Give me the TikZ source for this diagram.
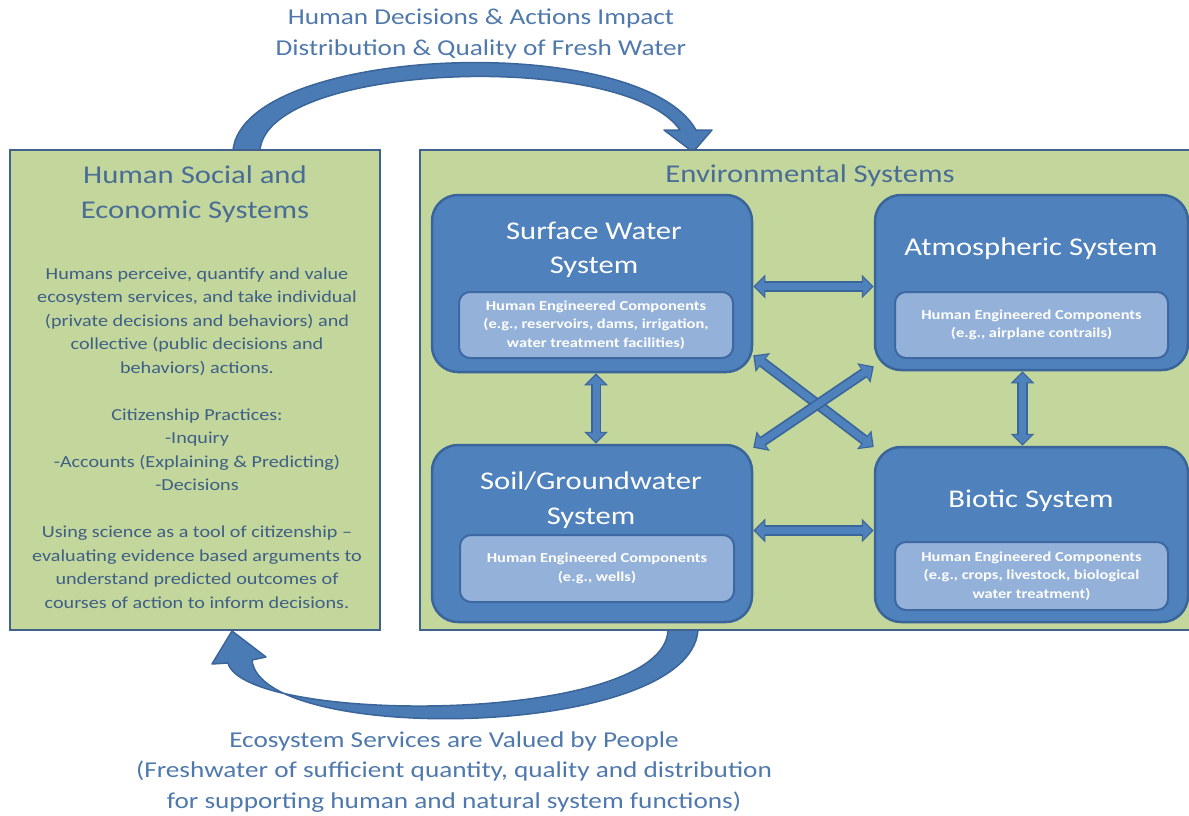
\documentclass[tikz,border=0pt]{standalone}
\usepackage{fontspec}
\setmainfont{Carlito}[FakeStretch=1.2]
\usetikzlibrary{arrows.meta,positioning}

\definecolor{greenfill}{HTML}{C3D69B}
\definecolor{greenedge}{HTML}{41628F}
\definecolor{sysfill}{HTML}{4F81BD}
\definecolor{sysedge}{HTML}{3A659A}
\definecolor{partfill}{HTML}{93B1D9}
\definecolor{partedge}{HTML}{3D68A2}
\definecolor{titletext}{HTML}{4A6D96}
\definecolor{bodytext}{HTML}{3E5F86}
\definecolor{labeltext}{HTML}{4F79AD}

\begin{document}
\begin{tikzpicture}[x=1pt,y=-1pt]
\tikzstyle{every node}+=[inner sep=0pt]
\tikzstyle{greenbox}=[draw=greenedge, fill=greenfill, line width=2.5pt]
\tikzstyle{sysbox}=[draw=sysedge, fill=sysfill, line width=2.5pt, rounded corners=26pt]
\tikzstyle{partbox}=[draw=partedge, fill=partfill, line width=2pt, rounded corners=11pt,
  text=white, align=center, font=\bfseries\fontsize{13.7}{18.5}\selectfont]
\tikzstyle{systitle}=[text=white, align=center, font=\fontsize{25.5}{34.5}\selectfont]
\tikzstyle{label}=[text=labeltext, align=center, font=\fontsize{22.7}{30.5}\selectfont]
\tikzstyle{bigarrow}=[draw=sysedge, fill=sysfill!95!black, line width=1.5pt, line join=round]
\tikzstyle{link}=[draw=sysfill, line width=7pt, shorten >=2pt, shorten <=2pt,
  {Triangle[width=18pt,length=9pt]}-{Triangle[width=18pt,length=9pt]},
  preaction={draw=sysedge, line width=10.5pt, shorten >=0pt, shorten <=0pt,
    {Triangle[width=23pt,length=12pt]}-{Triangle[width=23pt,length=12pt]}}]
\useasboundingbox (0,0) rectangle (1189,815);

% curved arrows between the two sides
\draw[bigarrow] (233,150) .. controls (245,45) and (640,30) .. (696,130) -- (712,130)
  -- (693,152) -- (664,130) -- (680,130) .. controls (625,50) and (268,62) .. (260,150) -- cycle;
\draw[bigarrow] (698,630) .. controls (690,740) and (260,745) .. (252,660) -- (266,657)
  -- (232,631) -- (212,664) -- (228,663) .. controls (245,725) and (665,725) .. (668,630) -- cycle;

% the two sides
\node[greenbox, minimum width=370pt, minimum height=480pt] (human) at (195,390) {};
\node[greenbox, minimum width=772pt, minimum height=480pt] (env) at (806,390) {};

\node[text=titletext, align=center, font=\fontsize{25.6}{35}\selectfont] (humantitle) at (195,194)
  {Human Social and\\Economic Systems};
\node[text=bodytext, align=center, font=\fontsize{16.8}{23.5}\selectfont] (humantext) at (197,438)
  {Humans perceive, quantify and value\\ecosystem services, and take individual\\
   (private decisions and behaviors) and\\collective (public decisions and\\
   behaviors) actions.\\[23.5pt]
   Citizenship Practices:\\-Inquiry\\-Accounts (Explaining \& Predicting)\\-Decisions\\[23.5pt]
   Using science as a tool of citizenship --\\evaluating evidence based arguments to\\
   understand predicted outcomes of\\courses of action to inform decisions.};
\node[text=titletext, font=\fontsize{25.6}{35}\selectfont] (envtitle) at (810,176) {Environmental Systems};

% the four systems
\node[sysbox, minimum width=320pt, minimum height=177pt] (surf) at (592,283.5) {};
\node[sysbox, minimum width=313pt, minimum height=175pt] (atm) at (1031.5,282.5) {};
\node[sysbox, minimum width=320pt, minimum height=177pt] (soil) at (592,533.5) {};
\node[sysbox, minimum width=313pt, minimum height=175pt] (bio) at (1031.5,534.5) {};

\node[systitle] (surftitle) at (594,250) {Surface Water\\System};
\node[systitle] (atmtitle) at (1031,249) {Atmospheric System};
\node[systitle] (soiltitle) at (591,500) {Soil/Groundwater\\System};
\node[systitle] (biotitle) at (1031,501) {Biotic System};

\node[partbox, minimum width=274pt, minimum height=66pt] (surfpart) at (596,325)
  {Human Engineered Components\\(e.g., reservoirs, dams, irrigation,\\water treatment facilities)};
\node[partbox, minimum width=273pt, minimum height=66pt] (atmpart) at (1031.5,325)
  {Human Engineered Components\\(e.g., airplane contrails)};
\node[partbox, minimum width=274pt, minimum height=67pt] (soilpart) at (597,568.5)
  {Human Engineered Components\\(e.g., wells)};
\node[partbox, minimum width=273pt, minimum height=68pt] (biopart) at (1031.5,576)
  {Human Engineered Components\\(e.g., crops, livestock, biological\\water treatment)};

% links between the systems
\draw[link] ([yshift=-3pt]surf.east) -- ([yshift=-3pt]surf.east -| atm.west);
\draw[link] ([yshift=3pt]soil.east) -- ([yshift=3pt]soil.east -| bio.west);
\draw[link] ([xshift=4pt]surf.south) -- ([xshift=4pt]soil.north);
\draw[link] ([xshift=-9pt]atm.south) -- ([xshift=-9pt]bio.north);
\draw[link] (surf.-24) -- (bio.151);
\draw[link] (soil.28) -- (atm.208);

% labels of the curved arrows
\node[label] (impact) at (481,34) {Human Decisions \& Actions Impact\\Distribution \& Quality of Fresh Water};
\node[label] (services) at (454,772) {Ecosystem Services are Valued by People\\
  (Freshwater of sufficient quantity, quality and distribution\\
  for supporting human and natural system functions)};
\end{tikzpicture}
\end{document}
